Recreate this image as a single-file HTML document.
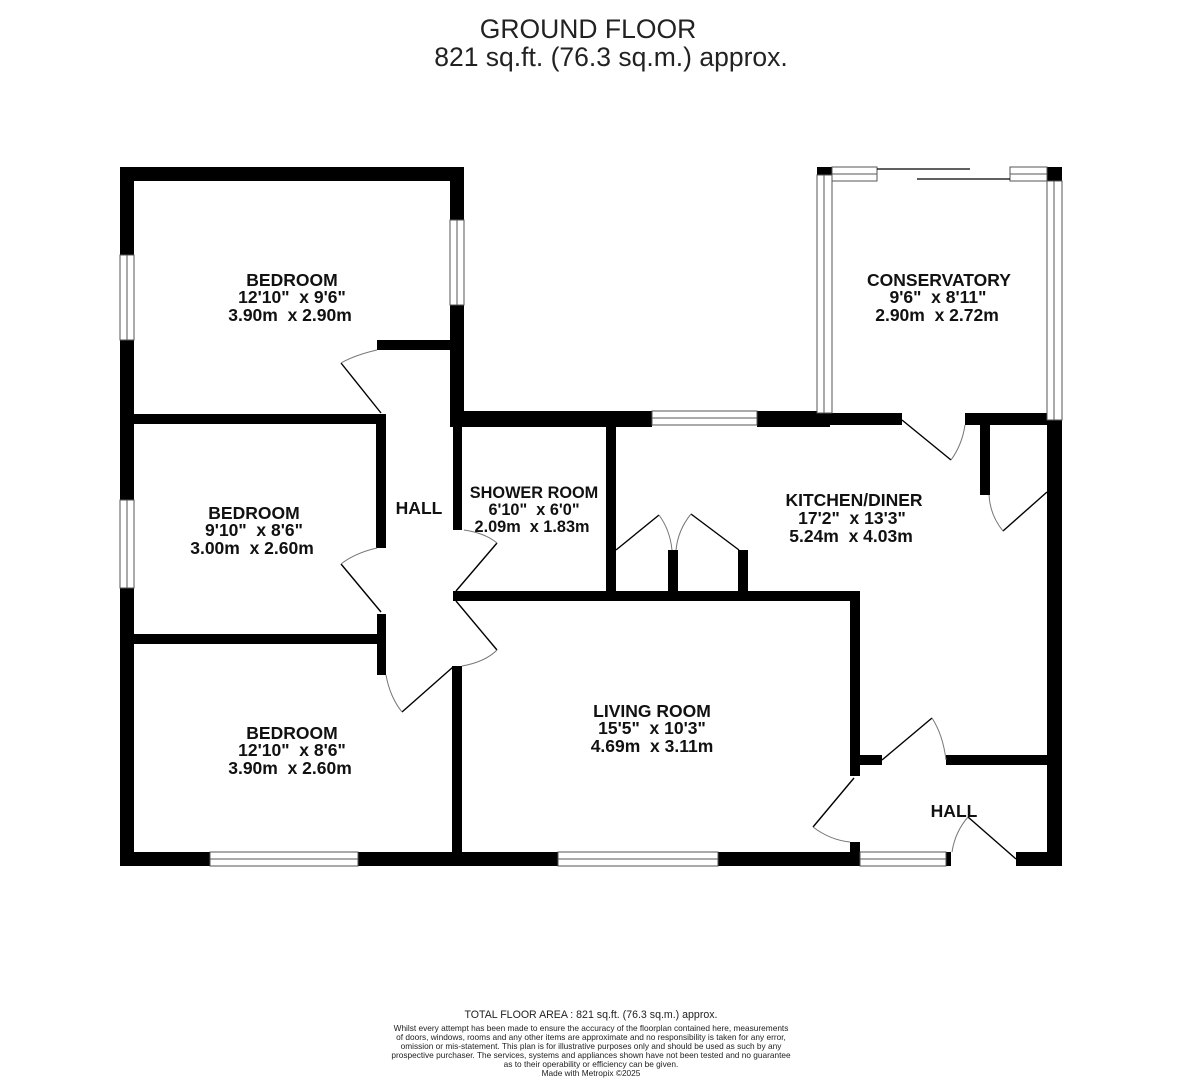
<!DOCTYPE html>
<html><head><meta charset="utf-8"><style>
html,body{margin:0;padding:0;background:#fff;}
svg{display:block;}
text{font-family:"Liberation Sans",sans-serif;}
.r{font-weight:bold;font-size:17.5px;text-anchor:middle;fill:#111;white-space:pre;}
</style></head><body>
<svg width="1181" height="1080" viewBox="0 0 1181 1080" xmlns="http://www.w3.org/2000/svg" xml:space="preserve">
<rect width="1181" height="1080" fill="#fff"/>
<text x="588" y="38" font-size="26.5" text-anchor="middle" fill="#222">GROUND FLOOR</text>
<text x="611" y="66" font-size="26.5" text-anchor="middle" fill="#222">821 sq.ft. (76.3 sq.m.) approx.</text>

<g fill="#000">
<rect x="120" y="167" width="344" height="14"/>
<rect x="120" y="167" width="14" height="88"/>
<rect x="120" y="340" width="14" height="160"/>
<rect x="120" y="588" width="14" height="278"/>
<rect x="450" y="167" width="14" height="53"/>
<rect x="450" y="305" width="14" height="122"/>
<rect x="377" y="340" width="73" height="10"/>
<rect x="134" y="414" width="252" height="10"/>
<rect x="376" y="414" width="10" height="134"/>
<rect x="453" y="425" width="9" height="105"/>
<rect x="464" y="411" width="188" height="16"/>
<rect x="757" y="411" width="73" height="16"/>
<rect x="606" y="425" width="10" height="173"/>
<rect x="453" y="591" width="407" height="10"/>
<rect x="668" y="550" width="10" height="48"/>
<rect x="738" y="550" width="10" height="48"/>
<rect x="850" y="591" width="10" height="185"/>
<rect x="134" y="634" width="252" height="10"/>
<rect x="377" y="614" width="9" height="61"/>
<rect x="452" y="666" width="10" height="200"/>
<rect x="120" y="852" width="90" height="14"/>
<rect x="358" y="852" width="200" height="14"/>
<rect x="718" y="852" width="142" height="14"/>
<rect x="850" y="842" width="10" height="24"/>
<rect x="946" y="852" width="5" height="14"/>
<rect x="1016" y="852" width="46" height="14"/>
<rect x="1047" y="420" width="15" height="446"/>
<rect x="832" y="413" width="70" height="12"/>
<rect x="965" y="413" width="82" height="12"/>
<rect x="980" y="424" width="10" height="71"/>
<rect x="860" y="755" width="22" height="10"/>
<rect x="946" y="755" width="101" height="10"/>
<rect x="817" y="413" width="15" height="12"/>
<rect x="817" y="167" width="15" height="8"/>
<rect x="1047" y="167" width="15" height="14"/>
</g>

<g fill="#fff" stroke="#555" stroke-width="1">
<rect x="120" y="255" width="14" height="85"/><line x1="127" y1="255" x2="127" y2="340"/>
<rect x="120" y="500" width="14" height="88"/><line x1="127" y1="500" x2="127" y2="588"/>
<rect x="450" y="220" width="14" height="85"/><line x1="457" y1="220" x2="457" y2="305"/>
<rect x="652" y="411" width="105" height="14"/><line x1="652" y1="418" x2="757" y2="418"/>
<rect x="210" y="852" width="148" height="14"/><line x1="210" y1="859" x2="358" y2="859"/>
<rect x="558" y="852" width="160" height="14"/><line x1="558" y1="859" x2="718" y2="859"/>
<rect x="860" y="852" width="86" height="14"/><line x1="860" y1="859" x2="946" y2="859"/>
<rect x="817" y="175" width="15" height="238"/><line x1="824" y1="175" x2="824" y2="413"/>
<rect x="1047" y="181" width="15" height="239"/><line x1="1054" y1="181" x2="1054" y2="420"/>
<rect x="832" y="167" width="45" height="14"/><line x1="832" y1="174" x2="877" y2="174"/>
<rect x="1010" y="167" width="37" height="14"/><line x1="1010" y1="174" x2="1047" y2="174"/>
</g>
<g stroke="#000" stroke-width="1.3">
<line x1="877" y1="169" x2="970" y2="169"/>
<line x1="917" y1="179" x2="1010" y2="179"/>
</g>

<g stroke="#000" stroke-width="1.4" fill="none">
<line x1="381" y1="413" x2="341" y2="363"/>
<line x1="381" y1="612" x2="341" y2="564"/>
<line x1="456" y1="591" x2="497" y2="543"/>
<line x1="456" y1="601" x2="497" y2="650"/>
<line x1="453" y1="667" x2="402" y2="712"/>
<line x1="616" y1="550" x2="659" y2="515"/>
<line x1="739" y1="550" x2="691" y2="514"/>
<line x1="902" y1="420" x2="951" y2="460"/>
<line x1="1047" y1="492" x2="1003" y2="531"/>
<line x1="882" y1="760" x2="932" y2="718"/>
<line x1="854" y1="778" x2="813" y2="827"/>
<line x1="968" y1="817" x2="1016" y2="859"/>
</g>
<g stroke="#777" stroke-width="1" fill="none">
<path d="M377 350 Q355 355 341 363"/>
<path d="M377 548 Q355 553 341 564"/>
<path d="M464 530 Q485 533 497 543"/>
<path d="M462 666 Q485 662 497 650"/>
<path d="M386 675 Q390 697 402 712"/>
<path d="M659 515 Q670 530 672 550"/>
<path d="M691 514 Q678 530 676 550"/>
<path d="M951 460 Q962 445 965 425"/>
<path d="M1003 531 Q990 515 989 495"/>
<path d="M932 718 Q943 735 946 760"/>
<path d="M813 827 Q830 840 850 842"/>
<path d="M968 817 Q955 832 952 852"/>
</g>

<text class="r" x="292" y="286">BEDROOM</text>
<text class="r" x="292" y="303">12'10"  x 9'6"</text>
<text class="r" x="290" y="321">3.90m  x 2.90m</text>
<text class="r" x="254" y="519">BEDROOM</text>
<text class="r" x="254" y="536">9'10"  x 8'6"</text>
<text class="r" x="252" y="554">3.00m  x 2.60m</text>
<text class="r" x="292" y="739">BEDROOM</text>
<text class="r" x="292" y="756">12'10"  x 8'6"</text>
<text class="r" x="290" y="774">3.90m  x 2.60m</text>
<text class="r" x="419" y="514">HALL</text>
<text class="r" x="534" y="498" style="font-size:16.3px">SHOWER ROOM</text>
<text class="r" x="534" y="515" style="font-size:16.3px">6'10"  x 6'0"</text>
<text class="r" x="532" y="532" style="font-size:16.3px">2.09m  x 1.83m</text>
<text class="r" x="854" y="506">KITCHEN/DINER</text>
<text class="r" x="852" y="524">17'2"  x 13'3"</text>
<text class="r" x="851" y="542">5.24m  x 4.03m</text>
<text class="r" x="939" y="286">CONSERVATORY</text>
<text class="r" x="938" y="303">9'6"  x 8'11"</text>
<text class="r" x="937" y="321">2.90m  x 2.72m</text>
<text class="r" x="652" y="717">LIVING ROOM</text>
<text class="r" x="652" y="734">15'5"  x 10'3"</text>
<text class="r" x="652" y="752">4.69m  x 3.11m</text>
<text class="r" x="954" y="817">HALL</text>

<text x="591" y="1018" font-size="10.6" text-anchor="middle" fill="#222">TOTAL FLOOR AREA : 821 sq.ft. (76.3 sq.m.) approx.</text>
<g font-size="8.3" text-anchor="middle" fill="#222">
<text x="591" y="1031">Whilst every attempt has been made to ensure the accuracy of the floorplan contained here, measurements</text>
<text x="591" y="1040">of doors, windows, rooms and any other items are approximate and no responsibility is taken for any error,</text>
<text x="591" y="1049">omission or mis-statement. This plan is for illustrative purposes only and should be used as such by any</text>
<text x="591" y="1058">prospective purchaser. The services, systems and appliances shown have not been tested and no guarantee</text>
<text x="591" y="1067">as to their operability or efficiency can be given.</text>
<text x="591" y="1076">Made with Metropix ©2025</text>
</g>
</svg>
</body></html>
